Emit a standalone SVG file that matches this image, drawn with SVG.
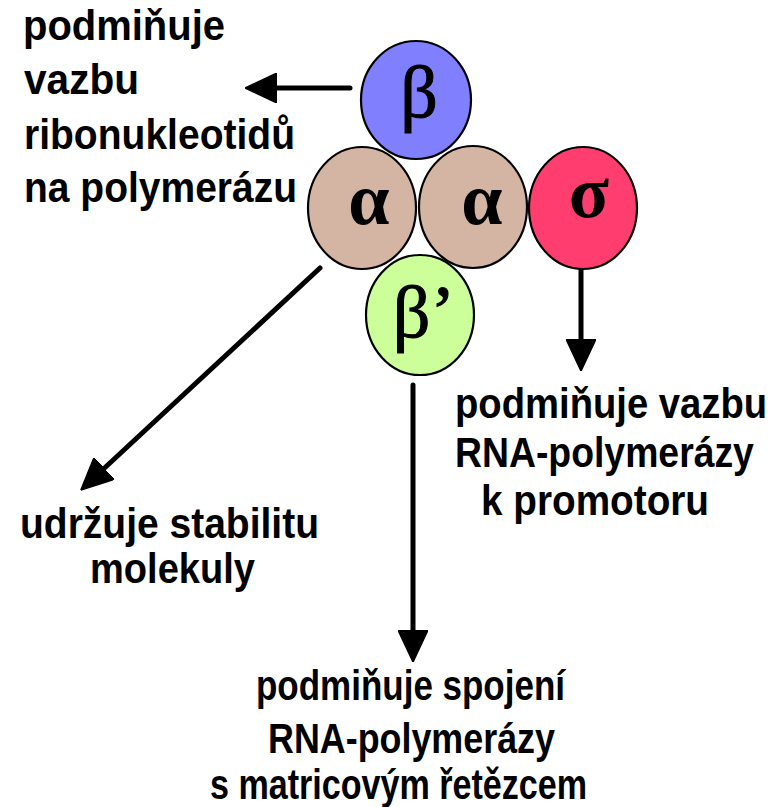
<svg xmlns="http://www.w3.org/2000/svg" width="773" height="807" viewBox="0 0 773 807">
<style>
.lbl{font-family:"Liberation Sans",Arial,sans-serif;font-weight:bold;font-size:43px;fill:#000}
.gr{font-family:"Liberation Serif","Times New Roman",serif;font-size:74px;fill:#000;text-anchor:middle}
.b{font-weight:bold}
.sub{stroke:#000;stroke-width:2.2}
.con{stroke:#000;stroke-width:5;fill:none;stroke-linecap:round}
</style>
<defs>
<marker id="ah" viewBox="0 0 32 30" refX="10" refY="15" markerWidth="32" markerHeight="30" markerUnits="userSpaceOnUse" orient="auto">
<path d="M0,0 L32,15 L0,30 z" fill="#000" stroke="#000" stroke-width="1.5" stroke-linejoin="round"/>
</marker>
</defs>
<rect width="773" height="807" fill="#fff"/>
<g id="connectors">
<line class="con" x1="350" y1="88" x2="267" y2="88" marker-end="url(#ah)"/>
<line class="con" x1="320" y1="268" x2="97" y2="475" marker-end="url(#ah)"/>
<line class="con" x1="581" y1="268" x2="581" y2="349" marker-end="url(#ah)"/>
<line class="con" x1="413" y1="385" x2="413" y2="640" marker-end="url(#ah)"/>
</g>
<g id="beta">
<ellipse class="sub" cx="416" cy="100" rx="55" ry="59" fill="#8080FF"/>
<text class="gr" x="419" y="117" stroke="#000" stroke-width="1">β</text>
</g>
<g id="alpha1">
<ellipse class="sub" cx="362" cy="208" rx="54" ry="61" fill="#D4B4A2"/>
<text class="gr b" x="369" y="224">α</text>
</g>
<g id="alpha2">
<ellipse class="sub" cx="473" cy="207" rx="54" ry="61" fill="#D4B4A2"/>
<text class="gr b" x="482" y="224">α</text>
</g>
<g id="sigma">
<ellipse class="sub" cx="583" cy="208" rx="54" ry="61" fill="#FF3D6E"/>
<text class="gr b" x="589" y="217">σ</text>
</g>
<g id="betaprime">
<ellipse class="sub" cx="420" cy="315" rx="54" ry="60" fill="#CCFF99"/>
<text class="gr" x="424" y="337" stroke="#000" stroke-width="1">β’</text>
</g>
<g id="label-beta">
<text class="lbl" x="23" y="40" textLength="202" lengthAdjust="spacingAndGlyphs">podmiňuje</text>
<text class="lbl" x="24" y="94" textLength="115" lengthAdjust="spacingAndGlyphs">vazbu</text>
<text class="lbl" x="24" y="149" textLength="271" lengthAdjust="spacingAndGlyphs">ribonukleotidů</text>
<text class="lbl" x="24" y="202" textLength="273" lengthAdjust="spacingAndGlyphs">na polymerázu</text>
</g>
<g id="label-alpha">
<text class="lbl" x="20" y="538" textLength="299" lengthAdjust="spacingAndGlyphs">udržuje stabilitu</text>
<text class="lbl" x="90" y="583" textLength="165" lengthAdjust="spacingAndGlyphs">molekuly</text>
</g>
<g id="label-sigma">
<text class="lbl" transform="translate(455,418) scale(0.889,1)" x="0" y="0">podmiňuje vazbu</text>
<text class="lbl" transform="translate(455,467) scale(0.869,1)" x="0" y="0">RNA-polymerázy</text>
<text class="lbl" x="481" y="515" textLength="228" lengthAdjust="spacingAndGlyphs">k promotoru</text>
</g>
<g id="label-betaprime">
<text class="lbl" x="256" y="700" textLength="309" lengthAdjust="spacingAndGlyphs">podmiňuje spojení</text>
<text class="lbl" x="268" y="753" textLength="287" lengthAdjust="spacingAndGlyphs">RNA-polymerázy</text>
<text class="lbl" x="210" y="799" textLength="377" lengthAdjust="spacingAndGlyphs">s matricovým řetězcem</text>
</g>
</svg>
